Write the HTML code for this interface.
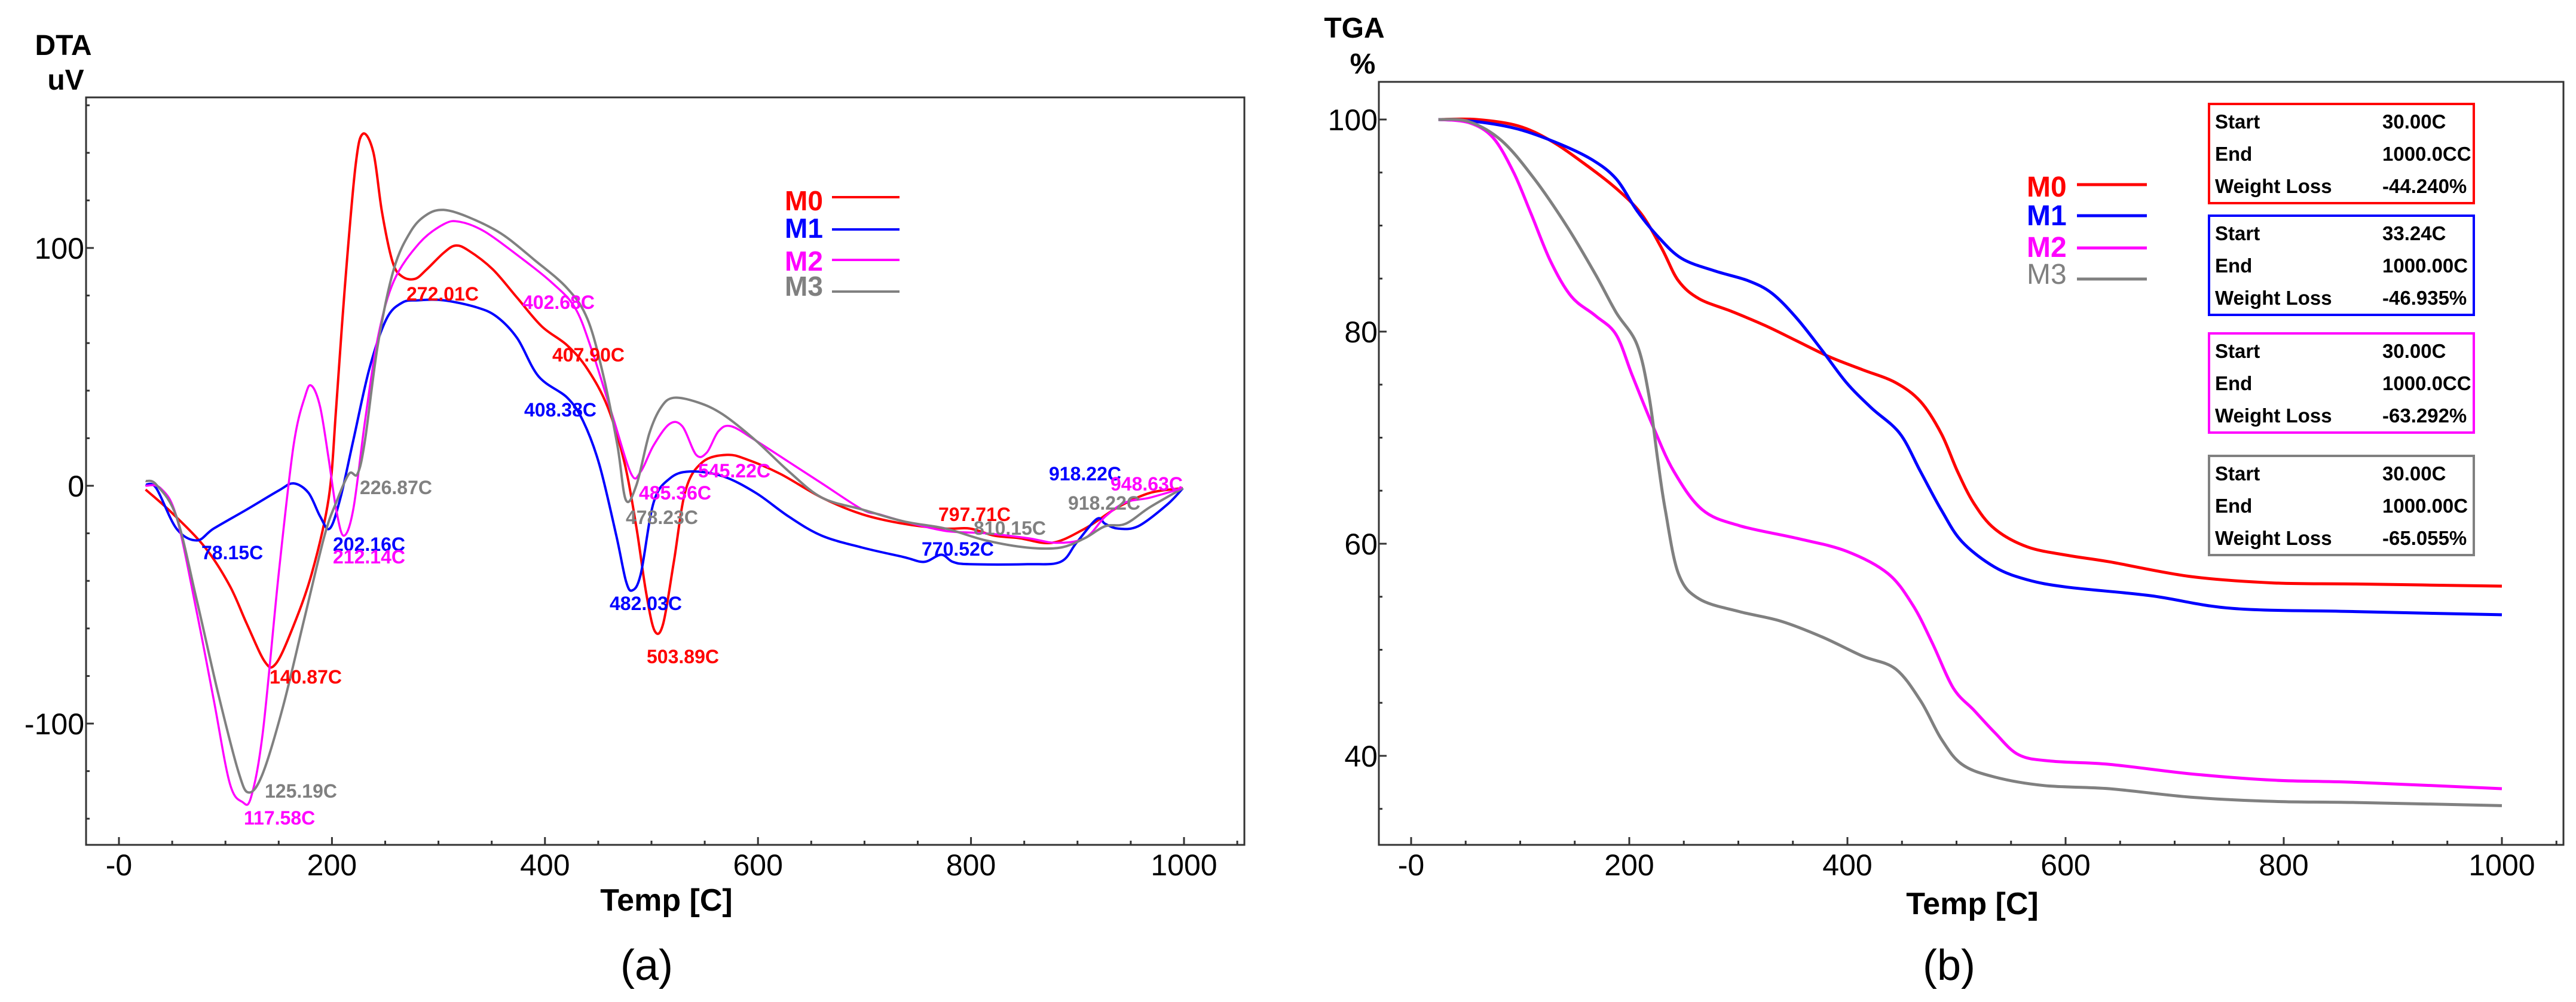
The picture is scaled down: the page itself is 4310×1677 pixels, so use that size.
<!DOCTYPE html>
<html><head><meta charset="utf-8"><style>
html,body{margin:0;padding:0;background:#fff}
svg{display:block}
text{font-family:"Liberation Sans",Arial,sans-serif}
</style></head><body>
<svg id="svg" xmlns="http://www.w3.org/2000/svg" width="4310" height="1677" viewBox="0 0 4310 1677">
<rect width="4310" height="1677" fill="#fff"/>
<g id="dta"></g>
<g id="tga"></g>
</svg>
<script>
// ---- DTA data (T in C, V in uV) ----
const dtaM0T=[25,50,81,104,120,137,147,162,181,197,204,212,222,229,239,247,257,266,278,289,305,316,328,351,374,397,421,440,459,475,486,495,503,511,521,532,548,571,590,621,660,698,737,776,799,822,845,876,907,938,968,999];
const dtaM0V=[-1.6,-11.5,-26,-42,-58,-74,-75,-61,-37,-5,33,83,134,148,140,115,94,88,87,91,98,101,99,91,79,67,59,49,33,9,-18,-45,-61,-58,-32,-2,10,13,11,5,-5,-12,-16,-18,-18,-21,-22,-24,-18,-9,-3,-1];
const dtaM1T=[25,35,54,73,89,120,150,164,178,189,198,208,220,235,251,266,281,305,336,355,374,394,421,436,451,467,476,482,490,502,517,536,567,598,629,660,698,737,756,772,783,799,853,884,899,918,926,938,957,984,999];
const dtaM1V=[0.5,-1,-18,-23,-18,-10,-2,1,-3,-13,-18,-5,19,49,70,77,78,78,75,71,62,46,37,27,9,-21,-40,-44,-37,-7,3,6,4,-3,-13,-21,-26,-30,-32,-29,-32,-33,-33,-32,-24,-14,-16,-18,-17,-8,-1];
const dtaM2T=[25,39,54,73,89,104,116,124,135,150,164,175,181,189,197,204,211,220,231,243,258,282,305,320,343,374,405,428,444,463,481,490,502,517,529,542,552,563,575,598,629,660,698,714,737,776,814,853,880,907,926,945,968,999];
const dtaM2V=[0,-1,-13,-53,-90,-125,-133,-131,-104,-37,17,38,42,33,11,-10,-21,-10,27,62,86,102,110,111,107,97,86,75,57,30,5,6,17,26,25,13,14,23,25,19,10,1,-10,-12,-15,-19,-20,-22,-24,-22,-13,-7,-5,-1];
const dtaM3T=[25,35,54,73,93,112,122,135,154,174,193,204,216,224,231,243,258,274,289,305,328,359,390,421,440,455,468,476,486,498,509,521,544,567,598,629,660,698,737,776,814,853,884,907,926,945,968,999];
const dtaM3V=[2,0.5,-13,-48,-87,-120,-129,-121,-93,-56,-21,-7,5,5,19,59,91,107,114,116,113,106,95,83,70,46,17,-6,0.5,22,33,37,35,30,19,6,-5,-10,-15,-18,-23,-26,-26,-22,-17,-16,-9,-1];
const dtaXTicks=["-0","200","400","600","800","1000"];
const dtaYTicks=["-100","0","100"];
// annotations: label, T position, value position
const dtaLabels=[
 ["272.01C","#ff0000",680,503],["402.68C","#ff00ff",874,517],["407.90C","#ff0000",924,605],
 ["408.38C","#0000ff",877,697],["226.87C","#808080",602,827],["78.15C","#0000ff",337,936],
 ["202.16C","#0000ff",557,922],["212.14C","#ff00ff",557,943],["140.87C","#ff0000",451,1144],
 ["125.19C","#808080",443,1335],["117.58C","#ff00ff",408,1380],["485.36C","#ff00ff",1069,836],
 ["478.23C","#808080",1047,877],["545.22C","#ff00ff",1168,799],["482.03C","#0000ff",1020,1021],
 ["503.89C","#ff0000",1082,1110],["797.71C","#ff0000",1570,872],["810.15C","#808080",1629,895],
 ["770.52C","#0000ff",1542,930],["918.22C","#0000ff",1755,804],["948.63C","#ff00ff",1858,821],
 ["918.22C","#808080",1787,853]];
// ---- TGA data (T in C, mass %) ----
const tgaM0T=[25,60,98,128,158,188,211,230,245,264,294,324,354,384,414,444,467,486,501,516,535,565,602,640,715,791,866,1000];
const tgaM0V=[100,100,99.4,98,95.9,93.5,91.1,87.8,84.8,83.1,81.9,80.6,79.1,77.6,76.4,75.2,73.4,70.4,66.8,63.8,61.4,59.7,58.9,58.3,56.9,56.3,56.2,56.0];
const tgaM1T=[25,60,98,136,166,188,207,226,248,279,309,331,354,377,399,422,448,467,486,505,535,565,602,678,753,866,1000];
const tgaM1V=[100,99.8,99.1,97.7,96.2,94.4,91.4,89,86.9,85.7,84.8,83.6,81.2,78.2,75.2,72.8,70.4,66.8,63.2,60.2,57.8,56.6,55.9,55.1,53.9,53.6,53.3];
const tgaM2T=[25,53,75,94,110,128,147,169,188,203,222,241,267,301,354,399,437,460,478,497,516,535,557,587,640,715,791,866,1000];
const tgaM2V=[100,99.7,98.3,95,91.1,86.6,83.3,81.5,79.7,75.8,71,66.8,63.2,61.7,60.5,59.3,57.2,54.2,50.6,46.4,44.3,42.2,40.1,39.5,39.2,38.3,37.7,37.5,36.9];
const tgaM3T=[25,53,83,113,143,169,188,207,218,226,233,245,264,301,339,377,414,444,467,486,505,535,580,640,715,791,866,1000];
const tgaM3V=[100,99.8,98,94.4,89.9,85.4,81.8,78.8,74,68,63.2,57.2,54.8,53.6,52.7,51.2,49.4,48.2,45.2,41.6,39.2,38,37.2,36.9,36.1,35.7,35.6,35.3];
const tgaXTicks=["-0","200","400","600","800","1000"];
const tgaYTicks=["40","60","80","100"];
const tgaBoxes=[["#ff0000","30.00C","1000.0CC","-44.240%"],["#0000ff","33.24C","1000.00C","-46.935%"],["#ff00ff","30.00C","1000.0CC","-63.292%"],["#808080","30.00C","1000.00C","-65.055%"]];

const NS="http://www.w3.org/2000/svg";
function mk(parent,tag,attrs,txt){const e=document.createElementNS(NS,tag);for(const k in attrs)e.setAttribute(k,attrs[k]);if(txt!==undefined)e.textContent=txt;parent.appendChild(e);return e;}
function smooth(pts){let d="M"+pts[0][0].toFixed(1)+","+pts[0][1].toFixed(1);for(let i=0;i<pts.length-1;i++){const p0=pts[i-1]||pts[i],p1=pts[i],p2=pts[i+1],p3=pts[i+2]||p2;const c1x=p1[0]+(p2[0]-p0[0])/6,c1y=p1[1]+(p2[1]-p0[1])/6,c2x=p2[0]-(p3[0]-p1[0])/6,c2y=p2[1]-(p3[1]-p1[1])/6;d+=" C"+c1x.toFixed(1)+","+c1y.toFixed(1)+" "+c2x.toFixed(1)+","+c2y.toFixed(1)+" "+p2[0].toFixed(1)+","+p2[1].toFixed(1);}return d;}
const COLORS=["#ff0000","#0000ff","#ff00ff","#808080"];

// ===== DTA =====
(function(){
const g=document.getElementById('dta');
const L=144,R=2082,T=163,B=1414;
const sx=t=>199+t*1.782, sy=v=>813-v*3.98;
mk(g,'rect',{x:L,y:T,width:R-L,height:B-T,fill:'none',stroke:'#333',"stroke-width":3});
for(let v=-140;v<=160;v+=20){const maj=v%100===0;mk(g,'line',{x1:L,x2:L+(maj?13:6),y1:sy(v),y2:sy(v),stroke:'#333',"stroke-width":3});}
for(let t=0;t<=1050;t+=50){const maj=t%200===0;mk(g,'line',{x1:sx(t),x2:sx(t),y1:B,y2:B-(maj?13:7),stroke:'#333',"stroke-width":3});}
dtaYTicks.forEach(s=>{const el=mk(g,'text',{x:141,y:sy(+s)+18,"text-anchor":"end","font-size":50,fill:'#000'},s);

});
dtaXTicks.forEach((s,i)=>{const el=mk(g,'text',{x:sx(i*200),y:1465,"text-anchor":"middle","font-size":50,fill:'#000'},s);

});
const series=[[dtaM0T,dtaM0V],[dtaM1T,dtaM1V],[dtaM2T,dtaM2V],[dtaM3T,dtaM3V]];
series.forEach((s,k)=>{const pts=s[0].map((t,i)=>[sx(t),sy(s[1][i])]);const p=mk(g,'path',{d:smooth(pts),fill:'none',stroke:COLORS[k],"stroke-width":k==2?3.5:4,"stroke-linejoin":"round"});

});
dtaLabels.forEach(a=>{const el=mk(g,'text',{x:a[2],y:a[3],"font-size":32,"font-weight":"bold",fill:a[1]},a[0]);

});
const lx=[352,398,453,495],ly=[330,384,435,488];
["M0","M1","M2","M3"].forEach((n,k)=>{const t=mk(g,'text',{x:1313,y:lx[k],"font-size":46,"font-weight":"bold",fill:COLORS[k]},n);


mk(g,'line',{x1:1392,x2:1505,y1:ly[k],y2:ly[k],stroke:COLORS[k],"stroke-width":4});});
mk(g,'text',{x:106,y:92,"text-anchor":"middle","font-size":48,"font-weight":"bold"},"DTA");
mk(g,'text',{x:110,y:150,"text-anchor":"middle","font-size":48,"font-weight":"bold"},"uV");
const xt=mk(g,'text',{x:1115,y:1524,"text-anchor":"middle","font-size":52,"font-weight":"bold"},"Temp  [C]");


mk(g,'text',{x:1082,y:1640,"text-anchor":"middle","font-size":72,"font-family":"Liberation Serif, serif"},"(a)");
})();

// ===== TGA =====
(function(){
const g=document.getElementById('tga');
const L=2307,R=4289,T=137,B=1414;
const sx=t=>2361+t*1.825, sy=v=>200+(100-v)*17.75;
mk(g,'rect',{x:L,y:T,width:R-L,height:B-T,fill:'none',stroke:'#333',"stroke-width":3});
for(let v=35;v<=100;v+=5){const maj=v%20===0;mk(g,'line',{x1:L,x2:L+(maj?13:6),y1:sy(v),y2:sy(v),stroke:'#333',"stroke-width":3});}
for(let t=0;t<=1050;t+=50){const maj=t%200===0;mk(g,'line',{x1:sx(t),x2:sx(t),y1:B,y2:B-(maj?13:7),stroke:'#333',"stroke-width":3});}
tgaYTicks.forEach(s=>{const el=mk(g,'text',{x:2305,y:sy(+s)+18,"text-anchor":"end","font-size":50,fill:'#000'},s);

});
tgaXTicks.forEach((s,i)=>{const el=mk(g,'text',{x:sx(i*200),y:1465,"text-anchor":"middle","font-size":50,fill:'#000'},s);

});
const series=[[tgaM0T,tgaM0V],[tgaM1T,tgaM1V],[tgaM2T,tgaM2V],[tgaM3T,tgaM3V]];
series.forEach((s,k)=>{const pts=s[0].map((t,i)=>[sx(t),sy(s[1][i])]);const p=mk(g,'path',{d:smooth(pts),fill:'none',stroke:COLORS[k],"stroke-width":5,"stroke-linejoin":"round"});

});
const lb=[329,377,430,475],ll=[309,361,415,467];
["M0","M1","M2","M3"].forEach((n,k)=>{const t=mk(g,'text',{x:3391,y:lb[k],"font-size":48,"font-weight":k==3?"normal":"bold",fill:COLORS[k]},n);


mk(g,'line',{x1:3475,x2:3592,y1:ll[k],y2:ll[k],stroke:COLORS[k],"stroke-width":5});});
const boxY=[174,361,558,763];
tgaBoxes.forEach((b,k)=>{const y=boxY[k];const r=mk(g,'rect',{x:3696,y:y,width:443,height:166,fill:'#fff',stroke:b[0],"stroke-width":4});


const rows=[["Start",b[1]],["End",b[2]],["Weight Loss",b[3]]];
rows.forEach((rw,j)=>{mk(g,'text',{x:3706,y:y+41+j*54,"font-size":33,"font-weight":"bold"},rw[0]);mk(g,'text',{x:3986,y:y+41+j*54,"font-size":33,"font-weight":"bold"},rw[1]);});});
mk(g,'text',{x:2266,y:63,"text-anchor":"middle","font-size":48,"font-weight":"bold"},"TGA");
mk(g,'text',{x:2280,y:123,"text-anchor":"middle","font-size":48,"font-weight":"bold"},"%");
const xt=mk(g,'text',{x:3300,y:1530,"text-anchor":"middle","font-size":52,"font-weight":"bold"},"Temp  [C]");


mk(g,'text',{x:3261,y:1640,"text-anchor":"middle","font-size":72,"font-family":"Liberation Serif, serif"},"(b)");
})();
</script>
</body></html>
